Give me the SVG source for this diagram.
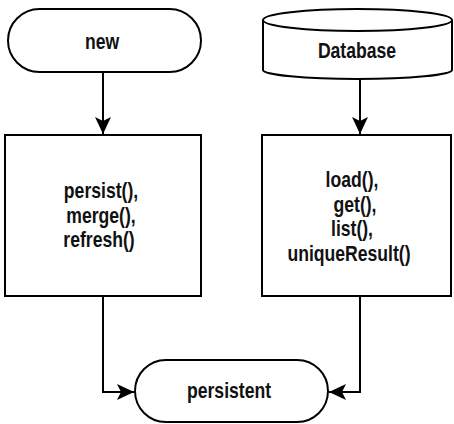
<svg xmlns="http://www.w3.org/2000/svg" width="454" height="424" viewBox="0 0 454 424">
<style>
.s{fill:#fff;stroke:#000;stroke-width:2}
.t{font-family:"Liberation Sans",Arial,sans-serif;font-weight:bold;font-size:22px;text-anchor:middle;fill:#111}
.c{fill:none;stroke:#000;stroke-width:2}
</style>
<defs>
<marker id="ah" markerUnits="userSpaceOnUse" viewBox="0 0 17 16" refX="17" refY="8" markerWidth="17" markerHeight="16" orient="auto">
<path d="M0,0 L17,8 L0,16 L4,8 Z" fill="#000"/>
</marker>
</defs>
<g id="connectors">
<path class="c" d="M103,72 V134" marker-end="url(#ah)"/>
<path class="c" d="M360,80 V134" marker-end="url(#ah)"/>
<path class="c" d="M103,296 V392 H134" marker-end="url(#ah)"/>
<path class="c" d="M360,296 V392 H329" marker-end="url(#ah)"/>
</g>
<g id="new">
<rect class="s" x="8" y="9" width="193" height="63" rx="31.5"/>
<text class="t" transform="translate(102,48.5) scale(0.8,1)">new</text>
</g>
<g id="database">
<path class="s" d="M263,20 V70 A94.5,9 0 0,0 452,70 V20"/>
<ellipse class="s" cx="357.5" cy="20" rx="94.5" ry="11"/>
<text class="t" transform="translate(357,58) scale(0.8,1)">Database</text>
</g>
<g id="persistBox">
<rect class="s" x="5" y="135" width="196" height="161"/>
<text class="t" transform="translate(101,198) scale(0.8,1)">persist(),</text>
<text class="t" transform="translate(101,222.5) scale(0.8,1)">merge(),</text>
<text class="t" transform="translate(99,247) scale(0.8,1)">refresh()</text>
</g>
<g id="loadBox">
<rect class="s" x="262" y="135" width="189" height="161"/>
<text class="t" transform="translate(352,187) scale(0.8,1)">load(),</text>
<text class="t" transform="translate(355,211.5) scale(0.8,1)">get(),</text>
<text class="t" transform="translate(352,236) scale(0.8,1)">list(),</text>
<text class="t" transform="translate(349,260.5) scale(0.8,1)">uniqueResult()</text>
</g>
<g id="persistent">
<rect class="s" x="135" y="360" width="193" height="62" rx="31"/>
<text class="t" transform="translate(229,398) scale(0.8,1)">persistent</text>
</g>
</svg>
